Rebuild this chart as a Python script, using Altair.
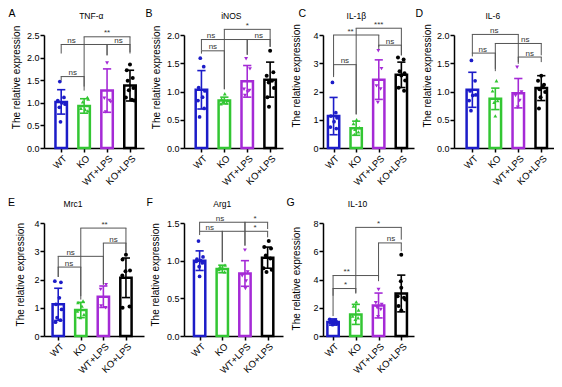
import altair as alt
import pandas as pd

GROUPS = ["WT", "KO", "WT+LPS", "KO+LPS"]
COLORS = ["#1c1cc8", "#33c633", "#a52ad6", "#000000"]
SHAPES = ["circle", "triangle-up", "triangle-down", "circle"]
SIZES = [14, 16, 16, 26]

LETTERS = ["A", "B", "C", "D", "E", "F", "G"]
GENES = ["TNF-α", "iNOS", "IL-1β", "IL-6", "Mrc1", "Arg1", "IL-10"]
Y_TITLE = "The relative expression"
Y_MAX = [2.5, 2, 4, 2, 4, 1.5, 8]
Y_TICKS = [[0, 0.5, 1, 1.5, 2, 2.5], [0, 0.5, 1, 1.5, 2], [0, 1, 2, 3, 4],
           [0, 0.5, 1, 1.5, 2], [0, 1, 2, 3, 4], [0, 0.5, 1, 1.5], [0, 2, 4, 6, 8]]
Y_FMT = [".1f", ".1f", "d", ".1f", "d", ".1f", "d"]

# ---- A: TNF-a
MEAN_A = [1.02, 0.93, 1.27, 1.38]
SD_A = [0.27, 0.16, 0.48, 0.34]
PTS_A = [[1.47, 1.12, 1.05, 1.0, 0.97, 0.9, 0.58],
         [1.12, 1.08, 1.02, 0.88, 0.85, 0.82],
         [1.88, 1.1, 1.05, 1.02, 0.8],
         [1.85, 1.72, 1.55, 1.49, 1.33, 1.28, 1.12, 1.07, 1.05]]
JIT_A = [[-0.06, 0.12, -0.15, 0.03, 0.17, -0.08, -0.03],
         [0.14, 0.18, -0.06, -0.14, 0.05, 0.16],
         [0.0, -0.12, 0.1, 0.16, -0.06],
         [0.0, -0.14, 0.12, -0.1, 0.15, -0.05, -0.18, 0.08, 0.18]]
BRK_A = [(0, 1, 1.58, 1.49, 1.36, "ns", 0.5), (0, 2, 2.29, 2.09, 2.05, "ns", 0.45),
         (1, 3, 2.46, 1.27, 2.09, "**", 2.0), (2, 3, 2.29, 2.05, 2.12, "ns", 2.5)]

# ---- B: iNOS
MEAN_B = [1.03, 0.84, 1.18, 1.21]
SD_B = [0.34, 0.06, 0.28, 0.31]
PTS_B = [[1.59, 1.44, 1.07, 1.01, 0.9, 0.84, 0.7, 0.55],
         [0.96, 0.87, 0.84, 0.82, 0.8, 0.78],
         [1.58, 1.4, 1.04, 1.02, 0.99, 0.93],
         [1.72, 1.34, 1.28, 1.19, 1.16, 1.06, 0.9, 0.73]]
JIT_B = [[-0.05, 0.1, -0.12, 0.15, 0.05, -0.15, 0.12, -0.08],
         [0.02, -0.12, 0.14, -0.05, 0.1, -0.15],
         [-0.05, 0.12, -0.14, 0.1, 0.02, -0.1],
         [0.0, 0.14, -0.15, 0.08, -0.06, 0.17, -0.12, -0.05]]
BRK_B = [(0, 1, 1.72, 1.67, 1.04, "ns", 0.5), (0, 2, 1.92, 1.73, 1.65, "ns", 0.42),
         (1, 3, 2.10, 1.04, 1.79, "*", 2.0), (2, 3, 1.92, 1.65, 1.79, "ns", 2.5)]

# ---- C: IL-1b
MEAN_C = [1.13, 0.70, 2.42, 2.59]
SD_C = [0.66, 0.25, 0.70, 0.45]
PTS_C = [[2.32, 1.25, 1.13, 1.07, 0.93, 0.74, 0.69],
         [1.0, 0.86, 0.72, 0.66, 0.57, 0.48],
         [3.44, 2.81, 2.2, 2.09, 1.61],
         [3.2, 3.13, 2.72, 2.65, 2.57, 2.39, 2.13, 2.03]]
JIT_C = [[-0.05, 0.1, -0.12, 0.15, 0.02, -0.14, 0.12],
         [0.02, -0.12, 0.14, -0.05, 0.1, -0.08],
         [-0.02, 0.12, -0.1, 0.08, -0.04],
         [-0.15, 0.1, -0.08, 0.14, 0.0, 0.17, -0.12, 0.12]]
BRK_C = [(0, 1, 2.95, 2.51, 1.19, "ns", 0.5), (0, 2, 4.0, 2.57, 3.58, "**", 0.75),
         (1, 3, 4.24, 1.19, 3.28, "***", 2.0), (2, 3, 3.64, 3.5, 3.28, "ns", 2.5)]

# ---- D: IL-6
MEAN_D = [1.03, 0.87, 0.97, 1.06]
SD_D = [0.31, 0.19, 0.26, 0.22]
PTS_D = [[1.55, 1.19, 1.01, 0.94, 0.93, 0.84, 0.66],
         [1.19, 1.01, 0.84, 0.81, 0.57],
         [1.43, 0.99, 0.93, 0.84, 0.72],
         [1.28, 1.19, 1.12, 1.09, 1.04, 0.99, 0.9, 0.7]]
JIT_D = [[-0.04, 0.12, -0.1, 0.15, 0.02, -0.14, -0.06],
         [0.05, -0.12, 0.1, -0.05, 0.0],
         [-0.05, 0.14, -0.12, 0.06, -0.02],
         [0.0, -0.14, 0.12, 0.06, -0.08, 0.17, -0.03, -0.1]]
BRK_D = [(0, 1, 1.68, 1.62, 1.36, "ns", 0.45), (0, 2, 2.01, 1.68, 1.49, "ns", 0.95),
         (1, 3, 1.85, 1.40, 1.64, "ns", 2.3), (2, 3, 1.61, 1.52, 1.52, "ns", 2.5)]

# ---- E: Mrc1
MEAN_E = [1.12, 0.92, 1.39, 2.06]
SD_E = [0.57, 0.27, 0.38, 0.70]
PTS_E = [[1.94, 1.9, 1.35, 1.12, 0.94, 0.65, 0.56, 0.49],
         [1.24, 1.18, 1.06, 0.88, 0.76, 0.65],
         [1.82, 1.65, 1.06, 1.0],
         [2.88, 2.71, 2.32, 2.29, 2.14, 1.04, 1.0]]
JIT_E = [[-0.15, 0.12, 0.05, -0.1, 0.15, -0.05, 0.1, -0.12],
         [0.1, -0.12, 0.05, -0.15, 0.14, -0.02],
         [0.12, -0.12, -0.1, 0.1],
         [0.0, -0.15, 0.18, -0.02, -0.16, 0.16, -0.15]]
BRK_E = [(0, 1, 2.44, 2.09, 1.41, "ns", 0.48), (0, 2, 2.82, 2.09, 1.82, "ns", 0.55),
         (1, 3, 3.82, 1.29, 2.94, "**", 2.05), (2, 3, 3.29, 1.82, 2.94, "ns", 2.45)]

# ---- F: Arg1
MEAN_F = [1.0, 0.89, 0.83, 1.04]
SD_F = [0.13, 0.05, 0.17, 0.14]
PTS_F = [[1.26, 1.05, 1.02, 1.0, 0.99, 0.97, 0.92, 0.79],
         [0.94, 0.92, 0.9, 0.88, 0.85],
         [1.14, 0.85, 0.8, 0.73, 0.63],
         [1.26, 1.18, 1.16, 1.07, 1.03, 0.9, 0.88, 0.85]]
JIT_F = [[-0.05, 0.15, -0.12, 0.05, -0.15, 0.12, -0.02, 0.0],
         [0.12, -0.1, 0.02, -0.15, 0.1],
         [0.0, 0.12, -0.12, 0.05, 0.02],
         [0.05, -0.15, 0.15, -0.08, 0.12, -0.18, 0.18, -0.05]]
BRK_F = [(0, 1, 1.39, 1.34, 0.98, "ns", 0.45), (0, 2, 1.51, 1.39, 1.2, "ns", 0.9),
         (1, 3, 1.39, 0.98, 1.31, "*", 2.45), (2, 3, 1.51, 1.2, 1.42, "*", 2.45)]

# ---- G: IL-10
MEAN_G = [0.99, 1.53, 2.16, 3.01]
SD_G = [0.22, 0.71, 0.88, 1.30]
PTS_G = [[1.18, 1.1, 1.05, 1.0, 0.95, 0.9, 0.85, 0.8],
         [2.42, 2.12, 1.84, 1.41, 1.29, 1.18],
         [3.29, 2.35, 2.24, 2.0, 1.88, 1.36],
         [5.76, 3.88, 3.41, 2.82, 2.71, 2.59, 2.12, 1.8]]
JIT_G = [[-0.15, 0.1, -0.05, 0.15, -0.12, 0.05, 0.18, -0.02],
         [0.02, -0.1, 0.12, -0.14, 0.1, -0.02],
         [0.0, -0.12, 0.14, -0.06, 0.1, -0.02],
         [0.0, -0.02, 0.0, -0.16, 0.12, 0.18, -0.12, 0.0]]
BRK_G = [(0, 1, 3.36, 2.85, 3.0, "*", 0.55), (0, 2, 4.28, 1.41, 3.88, "**", 0.6),
         (1, 3, 7.69, 3.06, 6.82, "*", 2.0), (2, 3, 6.59, 4.12, 6.0, "ns", 2.55)]

MEANS = [MEAN_A, MEAN_B, MEAN_C, MEAN_D, MEAN_E, MEAN_F, MEAN_G]
SDS = [SD_A, SD_B, SD_C, SD_D, SD_E, SD_F, SD_G]
PTS = [PTS_A, PTS_B, PTS_C, PTS_D, PTS_E, PTS_F, PTS_G]
JIT = [JIT_A, JIT_B, JIT_C, JIT_D, JIT_E, JIT_F, JIT_G]
BRK = [BRK_A, BRK_B, BRK_C, BRK_D, BRK_E, BRK_F, BRK_G]

# ---- layout / style (pixels, per panel)
W = [100, 99, 91, 100, 100, 99, 91]
H = 113
XDOM = [[-0.75, 3.611], [-0.761, 3.562], [-0.468, 3.559], [-0.799, 3.555],
        [-0.63, 3.80], [-0.689, 3.678], [-0.443, 3.56]]
LET_X = [-35.5, -38.5, -24.5, -38.5, -36, -37.5, -36.5]
LET_Y = [-26, -26, -26, -26, -25.5, -25.5, -25.5]
TIT_X = [47.3, 47.3, 33.3, 38.8, 29, 38.2, 34.5]
TIT_Y = -16
YT_X = [-26.8, -26.8, -25.8, -26.2, -23.5, -27.8, -26.5]
YT_Y = [42.5, 42.5, 40.8, 40.8, 51.7, 51.8, 55.7]
BR_COLOR = "#555555"
LABEL_EXPR = "[" + ",".join("'%s'" % g for g in GROUPS) + "][datum.value]"


def panel(k):
    bars = pd.DataFrame({"g": GROUPS, "i": [0, 1, 2, 3], "mean": MEANS[k], "sd": SDS[k]})
    rows = []
    for gi, (vals, offs) in enumerate(zip(PTS[k], JIT[k])):
        for v, o in zip(vals, offs):
            rows.append({"g": GROUPS[gi], "px": gi + o, "v": v})
    points = pd.DataFrame(rows)
    brk = pd.DataFrame(BRK[k], columns=["a", "b", "top", "lb", "rb", "label", "lx"])

    xs = alt.Scale(domain=XDOM[k], nice=False, zero=False)
    ys = alt.Scale(domain=[0, Y_MAX[k]], nice=False, zero=False)
    xaxis = alt.Axis(values=[0, 1, 2, 3], labelExpr=LABEL_EXPR, labelAngle=-45, title=None,
                     grid=False, labelOverlap=False, labelFlush=False, labelFontSize=9.5,
                     labelPadding=1, labelAlign="right", labelBaseline="top")
    yaxis = alt.Axis(values=Y_TICKS[k], format=Y_FMT[k], title=None, grid=False,
                     labelFlush=False, labelOverlap=False, labelPadding=1)
    stroke = alt.Stroke("g:N", scale=alt.Scale(domain=GROUPS, range=COLORS), legend=None)
    color = alt.Color("g:N", scale=alt.Scale(domain=GROUPS, range=COLORS), legend=None)

    def X(f):
        return alt.X(f, scale=xs, axis=xaxis)

    def Y(f):
        return alt.Y(f, scale=ys, axis=yaxis)

    rect = alt.Chart(bars).transform_calculate(
        xl="datum.i - 0.25", xr="datum.i + 0.25"
    ).mark_rect(fill="white", strokeWidth=2.5).encode(
        x=X("xl:Q"), x2="xr:Q", y=Y("mean:Q"), y2=alt.Y2Datum(0), stroke=stroke)

    err = alt.Chart(bars).transform_calculate(
        lo="datum.mean - datum.sd", hi="datum.mean + datum.sd",
        cl="datum.i - 0.18", cr="datum.i + 0.18")
    vline = err.mark_rule(strokeWidth=1.6).encode(
        x=X("i:Q"), y=Y("lo:Q"), y2="hi:Q", color=color)
    capt = err.mark_rule(strokeWidth=1.6).encode(
        x=X("cl:Q"), x2="cr:Q", y=Y("hi:Q"), color=color)
    capb = err.mark_rule(strokeWidth=1.6).encode(
        x=X("cl:Q"), x2="cr:Q", y=Y("lo:Q"), color=color)

    pts = alt.Chart(points).mark_point(filled=True, opacity=1).encode(
        x=X("px:Q"), y=Y("v:Q"),
        color=color,
        shape=alt.Shape("g:N", scale=alt.Scale(domain=GROUPS, range=SHAPES), legend=None),
        size=alt.Size("g:O", scale=alt.Scale(domain=GROUPS, range=SIZES), legend=None))

    bk = alt.Chart(brk)
    hline = bk.mark_rule(color=BR_COLOR, strokeWidth=1, strokeCap="square").encode(
        x=X("a:Q"), x2="b:Q", y=Y("top:Q"))
    lleg = bk.mark_rule(color=BR_COLOR, strokeWidth=1).encode(
        x=X("a:Q"), y=Y("top:Q"), y2="lb:Q")
    rleg = bk.mark_rule(color=BR_COLOR, strokeWidth=1).encode(
        x=X("b:Q"), y=Y("top:Q"), y2="rb:Q")
    lab = bk.mark_text(fontSize=8, baseline="alphabetic", dy=-1.5, color="#333333").encode(
        x=X("lx:Q"), y=Y("top:Q"), text="label:N")

    letter = alt.Chart(pd.DataFrame({"t": [LETTERS[k]]})).mark_text(
        align="left", baseline="top", fontSize=10.5, color="black").encode(
        x=alt.value(LET_X[k]), y=alt.value(LET_Y[k]), text="t:N")
    title = alt.Chart(pd.DataFrame({"t": [GENES[k]]})).mark_text(
        align="center", baseline="alphabetic", fontSize=8.5, color="black").encode(
        x=alt.value(TIT_X[k]), y=alt.value(TIT_Y), text="t:N")
    ytitle = alt.Chart(pd.DataFrame({"t": [Y_TITLE]})).mark_text(
        align="center", baseline="middle", angle=270, fontSize=10, color="black").encode(
        x=alt.value(YT_X[k]), y=alt.value(YT_Y[k]), text="t:N")

    return alt.layer(rect, vline, capt, capb, pts, hline, lleg, rleg, lab,
                     letter, title, ytitle).properties(width=W[k], height=H)


chart = alt.concat(
    *[panel(k) for k in range(7)], columns=4,
    spacing={"row": 75, "column": 40}, bounds="flush"
).properties(padding={"left": 0, "top": 1, "right": 0, "bottom": 0}).configure(
    font="Liberation Sans"
).configure_view(
    stroke=None
).configure_axis(
    domainColor="black", domainWidth=1.5, tickColor="black", tickWidth=1.5, tickSize=4,
    labelColor="black", labelFontSize=9, titleFontSize=10, titleFontWeight="normal",
    titleColor="black"
)

chart.save("out.html", embed_options={"renderer": "svg", "actions": False})
